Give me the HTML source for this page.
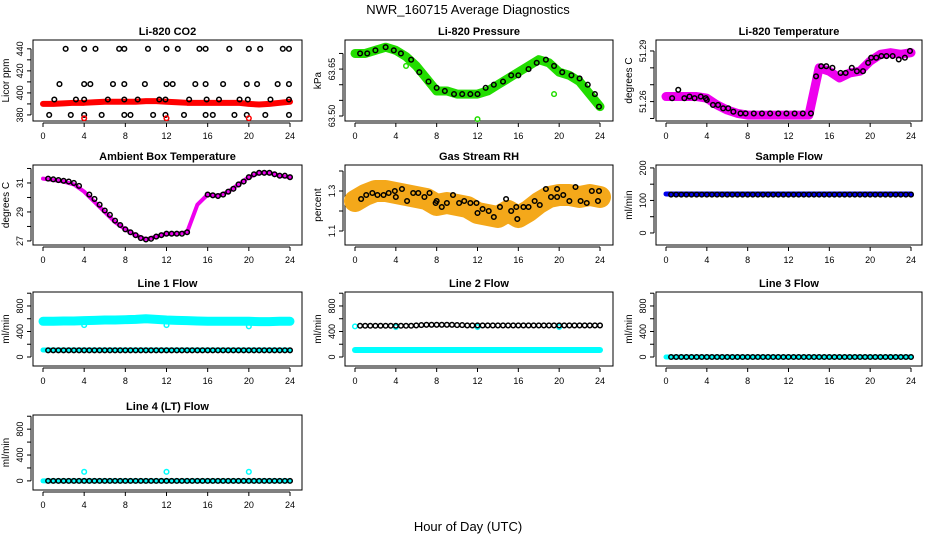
<!DOCTYPE html>
<html><head><meta charset="utf-8">
<style>
body{margin:0;background:#fff;}
svg{display:block;font-family:"Liberation Sans",sans-serif;}
</style></head>
<body>
<svg id="chart" width="936" height="540" viewBox="0 0 936 540">
<rect width="936" height="540" fill="#fff"/>
<text x="468" y="14" text-anchor="middle" font-size="13">NWR_160715  Average Diagnostics</text>
<text x="468" y="531" text-anchor="middle" font-size="13">Hour of Day (UTC)</text>
</svg>
<script>
// ---- data ----
const hours = [0,1,2,3,4,5,6,7,8,9,10,11,12,13,14,15,16,17,18,19,20,21,22,23,24];
const xTicks = [0,4,8,12,16,20,24];

const co2Band = [390,390,390.5,391,391,391.5,392,392,392,392,392.5,392.5,392,391.5,391,391,391,391,391,391,390,389.5,390,391,392];
const co2PtsX = [2.2,4,5.1,7.4,7.9,10.2,12,13.1,15.2,15.8,18.1,20,21.1,23.3,23.9, 1.6,4,4.6,6.8,7.9,9.9,12,12.6,14.8,15.8,17.5,19.8,20.8,22.8,23.9, 1.1,3.2,4,6.3,7.9,9.2,11.3,11.9,14.2,15.9,17.1,19.1,19.9,22.1,23.9, 0.6,2.7,4,5.7,7.9,8.5,10.7,11.9,13.7,15.8,16.5,18.6,19.8,21.6,23.9];
const co2PtsY = [440,440,440,440,440,440,440,440,440,440,440,440,440,440,440, 408,408,408,408,408,408,408,408,408,408,408,408,408,408,408, 394,394,394,394,394,394,394,394,394,394,394,394,394,394,394, 380,380,380,380,380,380,380,380,380,380,380,380,380,380,380];
const co2OutX = [4,12,20];
const co2OutY = [377,377,377];

const presBand = [63.70,63.70,63.71,63.72,63.71,63.69,63.66,63.62,63.58,63.58,63.57,63.57,63.57,63.58,63.60,63.62,63.64,63.66,63.68,63.67,63.64,63.63,63.61,63.57,63.53];
const presPtsX = [0.5,1.2,2,3,3.8,4.5,5.5,6.3,7.2,8,8.8,9.7,10.5,11.3,12,12.8,13.6,14.5,15.3,16,17,17.8,18.7,19.5,20.3,21.2,22,22.8,23.5,23.9];
const presPtsY = [63.70,63.70,63.71,63.72,63.71,63.70,63.68,63.64,63.61,63.59,63.58,63.57,63.57,63.57,63.57,63.59,63.60,63.61,63.63,63.63,63.65,63.67,63.68,63.66,63.64,63.63,63.62,63.60,63.57,63.53];
const presOutX = [5,12,19.5];
const presOutY = [63.66,63.49,63.57];

const tempBand = [51.263,51.263,51.263,51.263,51.262,51.258,51.255,51.253,51.252,51.252,51.252,51.252,51.252,51.252,51.252,51.280,51.278,51.274,51.277,51.278,51.284,51.288,51.289,51.288,51.289];
const tempPtsX = [0.6,1.2,1.8,2.3,2.8,3.4,3.9,4,4.6,5.1,5.6,6.1,6.6,7.3,7.8,8.6,9.4,10.2,11,11.8,12.6,13.4,14.2,14.7,15.2,15.7,16.3,17.1,17.6,18.2,18.7,19.3,19.8,20.1,20.6,21.1,21.6,22.2,22.8,23.4,23.9];
const tempPtsY = [51.262,51.267,51.262,51.263,51.262,51.263,51.262,51.261,51.258,51.258,51.256,51.256,51.254,51.253,51.253,51.253,51.253,51.253,51.253,51.253,51.253,51.253,51.253,51.275,51.281,51.281,51.280,51.277,51.277,51.280,51.278,51.278,51.283,51.286,51.286,51.287,51.287,51.287,51.285,51.286,51.290];

const ambBand = [31.3,31.2,31.1,30.9,30.4,29.7,29.0,28.3,27.8,27.4,27.1,27.3,27.5,27.5,27.6,29.5,30.2,30.1,30.4,30.9,31.4,31.7,31.7,31.5,31.4];
const ambPtsX = [0.5,1,1.5,2,2.5,3,3.5,4.5,5,5.5,6,6.5,7,7.5,8,8.5,9,9.5,10,10.5,11,11.5,12,12.5,13,13.5,14,16,16.5,17,17.5,18,18.5,19,19.5,20,20.5,21,21.5,22,22.5,23,23.5,24];
const ambPtsY = [31.3,31.25,31.2,31.15,31.1,31.0,30.8,30.2,29.9,29.5,29.1,28.8,28.4,28.1,27.8,27.6,27.4,27.2,27.1,27.15,27.3,27.4,27.5,27.5,27.5,27.5,27.6,30.2,30.15,30.1,30.2,30.4,30.6,30.9,31.1,31.4,31.6,31.7,31.7,31.7,31.6,31.5,31.5,31.4];

const rhBand = [1.25,1.28,1.30,1.30,1.29,1.28,1.27,1.26,1.23,1.24,1.23,1.22,1.19,1.18,1.17,1.20,1.17,1.20,1.24,1.27,1.28,1.28,1.27,1.28,1.27];
const rhPtsX = [0.6,1.1,1.7,2.2,2.8,3.3,3.9,4,4.6,5.1,5.7,6.2,6.8,7.3,7.9,8,8.5,9,9.6,10.2,10.7,11.3,11.9,12,12.5,13.1,13.6,14.2,14.8,15.3,15.8,15.9,16.5,17,17.6,18.1,18.7,19.2,19.8,19.8,20.4,21,21.6,22.1,22.7,23.2,23.8,23.9];
const rhPtsY = [1.26,1.28,1.29,1.28,1.28,1.29,1.30,1.27,1.31,1.25,1.29,1.29,1.27,1.29,1.24,1.25,1.22,1.24,1.28,1.24,1.25,1.24,1.24,1.19,1.21,1.20,1.17,1.22,1.26,1.20,1.22,1.16,1.22,1.22,1.25,1.23,1.31,1.27,1.31,1.27,1.28,1.25,1.32,1.25,1.24,1.30,1.25,1.30];

const sfBand = [120,120,120,120,120,120,120,120,120,120,120,120,120,120,120,120,120,120,120,120,120,120,120,120,120];
const sfPtsX = [0.5,1,1.5,2,2.5,3,3.5,4,4.5,5,5.5,6,6.5,7,7.5,8,8.5,9,9.5,10,10.5,11,11.5,12,12.5,13,13.5,14,14.5,15,15.5,16,16.5,17,17.5,18,18.5,19,19.5,20,20.5,21,21.5,22,22.5,23,23.5,24];
const sfPtsY = [118,118,118,118,118,118,118,118,118,118,118,118,118,118,118,118,118,118,118,118,118,118,118,118,118,118,118,118,118,118,118,118,118,118,118,118,118,118,118,118,118,118,118,118,118,118,118,118];

const l1Band = [560,560,565,565,570,575,580,580,585,590,600,590,580,575,570,565,560,560,560,560,560,555,555,560,560];
const l1Low = [110,110,110,110,110,110,110,110,110,110,110,110,110,110,110,110,110,110,110,110,110,110,110,110,110];
const l1PtsY = [105,105,105,105,105,105,105,105,105,105,105,105,105,105,105,105,105,105,105,105,105,105,105,105,105,105,105,105,105,105,105,105,105,105,105,105,105,105,105,105,105,105,105,105,105,105,105,105];
const l1OutX = [4,12,20];
const l1OutY = [500,500,480];

const l2Band = [110,110,110,110,110,110,110,110,110,110,110,110,110,110,110,110,110,110,110,110,110,110,110,110,110];
const l2PtsY = [490,490,490,490,490,490,490,490,490,490,490,495,500,505,505,505,505,505,505,500,500,495,495,495,495,495,495,495,495,495,495,495,495,495,495,495,495,495,495,495,495,495,495,495,495,495,495,495];
const l2CyanX = [0,4,12,20];
const l2CyanY = [480,470,470,470];

const l3Band = [0,0,0,0,0,0,0,0,0,0,0,0,0,0,0,0,0,0,0,0,0,0,0,0,0];
const l3PtsY = [0,0,0,0,0,0,0,0,0,0,0,0,0,0,0,0,0,0,0,0,0,0,0,0,0,0,0,0,0,0,0,0,0,0,0,0,0,0,0,0,0,0,0,0,0,0,0,0];
const l4OutX = [4,12,20];
const l4OutY = [140,140,140];

// ---- layout helpers ----
const svg = document.getElementById('chart');
const NS = 'http://www.w3.org/2000/svg';
const cols = [{x0:43,x24:290,l:33,r:302},{x0:355,x24:600,l:345,r:613},{x0:666,x24:911,l:656,r:922}];
const rows = [{t:40,b:121},{t:165,b:245},{t:292,b:366},{t:415,b:490}];

function mk(tag, attrs, parent){
  const e = document.createElementNS(NS, tag);
  for (const k in attrs) e.setAttribute(k, attrs[k]);
  (parent||svg).appendChild(e);
  return e;
}

function panel(name, title, ylab, c, r, ymin, ymax, yTicks, yLabels){
  const C = cols[c], R = rows[r];
  const g = mk('g', {});
  
  
  const xs = h => C.x0 + (C.x24 - C.x0) * h / 24;
  const ys = v => R.b - (v - ymin) / (ymax - ymin) * (R.b - R.t);
  const box = mk('rect', {x:C.l, y:R.t, width:C.r-C.l, height:R.b-R.t, fill:'none', stroke:'#000', 'stroke-width':1}, g);
  
  
  const t = mk('text', {x:(C.l+C.r)/2, y:R.t-5, 'text-anchor':'middle', 'font-size':11, 'font-weight':'bold'}, g);
  t.textContent = title;
  
  
  const xa = mk('g', {}, g);
  
  
  mk('line', {x1:xs(0), x2:xs(24), y1:R.b+2, y2:R.b+2, stroke:'#000'}, xa);
  xTicks.forEach(h => {
    mk('line', {x1:xs(h), x2:xs(h), y1:R.b+2, y2:R.b+6, stroke:'#000'}, xa);
    const tl = mk('text', {x:xs(h), y:R.b+18, 'text-anchor':'middle', 'font-size':9}, xa);
    tl.textContent = h;
    
    
  });
  const ya = mk('g', {}, g);
  
  
  const ax = C.l - 2;
  mk('line', {x1:ax, x2:ax, y1:ys(yTicks[0]), y2:ys(yTicks[yTicks.length-1]), stroke:'#000'}, ya);
  yTicks.forEach(v => mk('line', {x1:ax-4, x2:ax, y1:ys(v), y2:ys(v), stroke:'#000'}, ya));
  yLabels.forEach(v => {
    const yy = ys(v);
    const tl = mk('text', {x:ax-8, y:yy, 'text-anchor':'middle', 'font-size':9, transform:`rotate(-90 ${ax-8} ${yy})`}, ya);
    tl.textContent = v;
    
    
  });
  const yl = mk('text', {x:C.l-24, y:(R.t+R.b)/2, 'text-anchor':'middle', 'font-size':10, transform:`rotate(-90 ${C.l-24} ${(R.t+R.b)/2})`}, g);
  yl.textContent = ylab;
  
  
  return {g, xs, ys};
}

function band(p, xsArr, vals, color, w, name){
  const pts = xsArr.map((h,i) => p.xs(h) + ',' + p.ys(vals[i])).join(' ');
  const pl = mk('polyline', {points:pts, fill:'none', stroke:color, 'stroke-width':w, 'stroke-linejoin':'round', 'stroke-linecap':'round'}, p.g);
  
  
}
function points(p, xsArr, vals, color, name, rad){
  xsArr.forEach((h,i) => {
    const c = mk('circle', {cx:p.xs(h), cy:p.ys(vals[i]), r:rad||2.3, fill:'none', stroke:color, 'stroke-width':1.5}, p.g);
    
    
  });
}

let p;
p = panel('co2', 'Li-820 CO2', 'Licor ppm', 0, 0, 374.5, 448, [380,390,400,410,420,430,440], [380,400,420,440]);
band(p, hours, co2Band, '#ff0000', 6, 'co2-band');
points(p, co2PtsX, co2PtsY, '#000', 'co2-point');
points(p, co2OutX, co2OutY, '#ff0000', 'co2-outlier');

p = panel('pressure', 'Li-820 Pressure', 'kPa', 1, 0, 63.484, 63.743, [63.50,63.55,63.60,63.65,63.70], ['63.50','63.65']);
band(p, hours, presBand, '#22dd00', 9, 'pressure-band');
points(p, presPtsX, presPtsY, '#000', 'pressure-point');
points(p, presOutX, presOutY, '#22dd00', 'pressure-outlier');

p = panel('temperature', 'Li-820 Temperature', 'degrees C', 2, 0, 51.2485, 51.2965, [51.25,51.26,51.27,51.28,51.29], ['51.26','51.29']);
band(p, hours, tempBand, '#ee00ee', 9, 'temperature-band');
points(p, tempPtsX, tempPtsY, '#000', 'temperature-point');

p = panel('ambient', 'Ambient Box Temperature', 'degrees C', 0, 1, 26.72, 32.24, [27,28,29,30,31,32], [27,29,31]);
band(p, hours, ambBand, '#ee00ee', 4, 'ambient-band');
points(p, ambPtsX, ambPtsY, '#000', 'ambient-point');

p = panel('rh', 'Gas Stream RH', 'percent', 1, 1, 1.03, 1.43, [1.1,1.2,1.3,1.4], ['1.1','1.3']);
band(p, hours, rhBand, '#f4a81a', 22, 'rh-band');
points(p, rhPtsX, rhPtsY, '#000', 'rh-point');

p = panel('sample-flow', 'Sample Flow', 'ml/min', 2, 1, -37, 209, [0,50,100,150,200], [0,100,200]);
band(p, hours, sfBand, '#0000ee', 5, 'sample-flow-band');
points(p, sfPtsX, sfPtsY, '#000', 'sample-flow-point');

const flowTicks = [0,200,400,600,800,1000];
p = panel('line1', 'Line 1 Flow', 'ml/min', 0, 2, -141, 1019, flowTicks, [0,400,800]);
band(p, hours, l1Band, '#00ffff', 9, 'line1-band');
band(p, hours, l1Low, '#00ffff', 5, 'line1-low-band');
points(p, sfPtsX, l1PtsY, '#000', 'line1-point');
points(p, l1OutX, l1OutY, '#00ffff', 'line1-outlier');

p = panel('line2', 'Line 2 Flow', 'ml/min', 1, 2, -141, 1019, flowTicks, [0,400,800]);
band(p, hours, l2Band, '#00ffff', 6, 'line2-band');
points(p, l2CyanX, l2CyanY, '#00ffff', 'line2-cyan-point');
points(p, sfPtsX, l2PtsY, '#000', 'line2-point');

p = panel('line3', 'Line 3 Flow', 'ml/min', 2, 2, -141, 1019, flowTicks, [0,400,800]);
band(p, hours, l3Band, '#00ffff', 5, 'line3-band');
points(p, sfPtsX, l3PtsY, '#000', 'line3-point');

p = panel('line4', 'Line 4 (LT) Flow', 'ml/min', 0, 3, -141, 1019, flowTicks, [0,400,800]);
band(p, hours, l3Band, '#00ffff', 5, 'line4-band');
points(p, sfPtsX, l3PtsY, '#000', 'line4-point');
points(p, l4OutX, l4OutY, '#00ffff', 'line4-outlier');
</script>
</body></html>
